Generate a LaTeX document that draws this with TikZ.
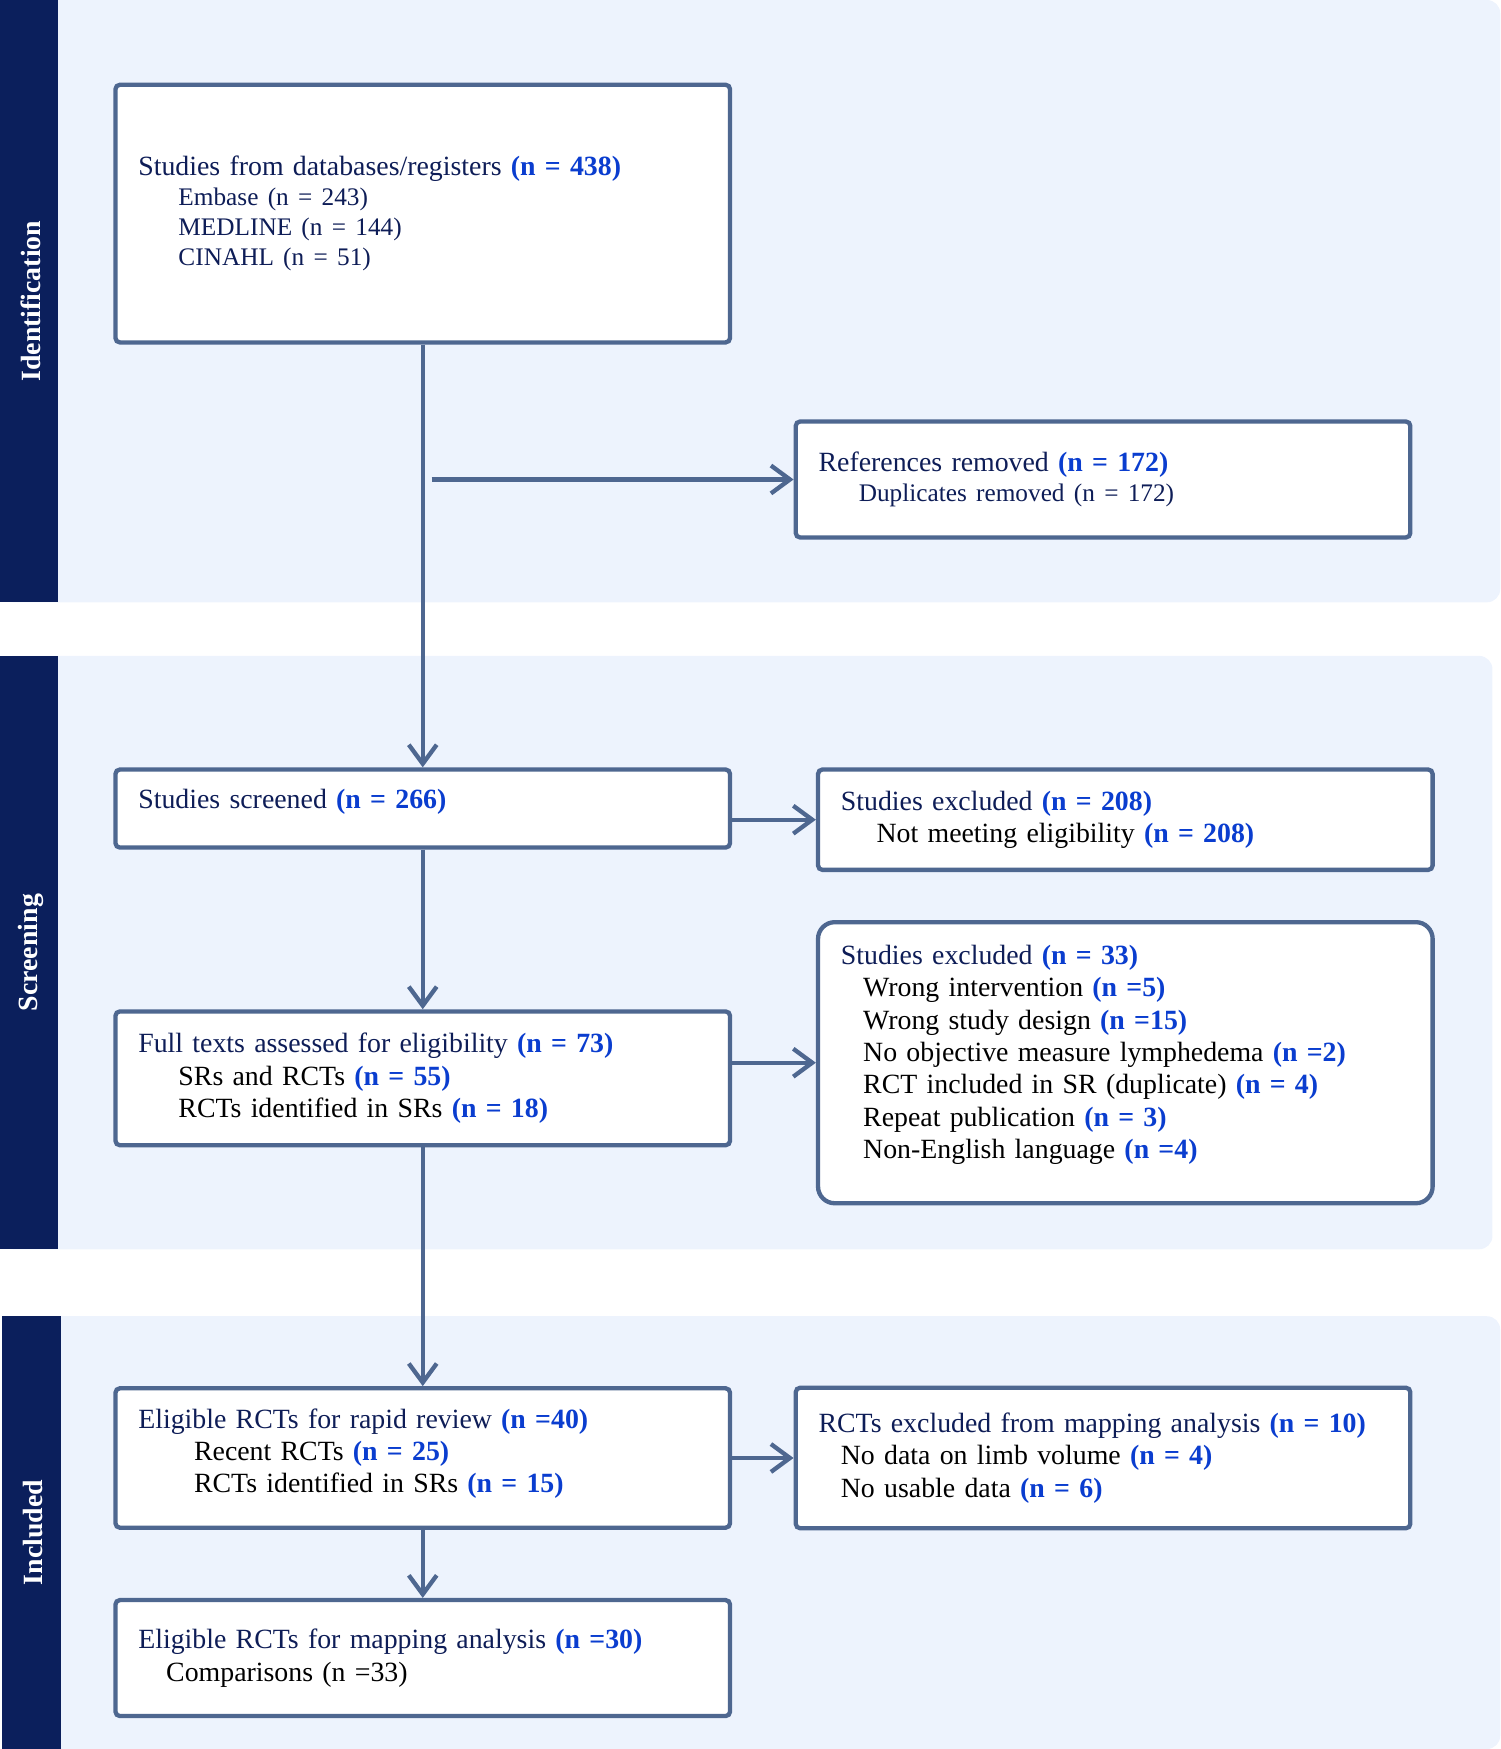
\documentclass[tikz,border=0pt]{standalone}
\usepackage{fontspec}
\setmainfont{Liberation Serif}
\usepackage{xcolor}
\usetikzlibrary{positioning,arrows.meta}

\definecolor{bandbg}{HTML}{EDF3FD}
\definecolor{navy}{HTML}{0B1F5C}
\definecolor{boxline}{HTML}{4E6790}
\definecolor{nblue}{HTML}{0A3DCF}
\definecolor{tnavy}{HTML}{0E1D57}
\newcommand{\mynum}[1]{\textcolor{nblue}{\textbf{#1}}}
\newcommand{\myttl}[1]{\textcolor{tnavy}{#1}}
\newcommand{\mysmall}{\fontsize{12.9}{14.9}\selectfont}
\newcommand{\mypad}[1]{\\[#1]\strut}

\begin{document}
\begin{tikzpicture}[
  mybox/.style={draw=boxline, line width=2.2pt, fill=white, rounded corners=0.08cm,
    minimum width=11.02cm, text width=10.2cm, inner xsep=0.4cm, align=left,
    font=\fontsize{14.2}{16.5}\selectfont},
  myarrow/.style={draw=boxline, line width=2.2pt, -{Straight Barb[length=0.34cm,width=0.5cm]}},
  myphase/.style={rotate=90, text=white, font=\bfseries\fontsize{14.2}{16}\selectfont},
 ]
\useasboundingbox (0,0) rectangle (26.9,-31.36);

% phase bands
\fill[bandbg, rounded corners=0.24cm] (0,0) rectangle (26.9,-10.8);
\fill[bandbg, rounded corners=0.24cm] (0,-11.76) rectangle (26.76,-22.4);
\fill[bandbg, rounded corners=0.24cm] (0.04,-23.6) rectangle (26.9,-31.36);
\fill[navy] (0,0) rectangle (1.04,-10.8);
\fill[navy] (0,-11.76) rectangle (1.04,-22.4);
\fill[navy] (0.04,-23.6) rectangle (1.1,-31.36);
\node[myphase] (P1) at (0.56,-5.4) {Identification};
\node[myphase] (P2) at (0.56,-17.08) {Screening};
\node[myphase] (P3) at (0.6,-27.48) {Included};

% left column
\node[mybox, minimum height=4.62cm, font=\fontsize{14.2}{15.3}\selectfont] (src) at (7.58,-3.83)
  {\myttl{Studies from databases/registers} \mynum{(n = 438)}\\
   \hspace*{0.72cm}{\mysmall\myttl{Embase (n = 243)}}\\
   \hspace*{0.72cm}{\mysmall\myttl{MEDLINE (n = 144)}}\\
   \hspace*{0.72cm}{\mysmall\myttl{CINAHL (n = 51)}}};
\node[mybox, minimum height=1.4cm, below=7.58cm of src] (scr)
  {\myttl{Studies screened} \mynum{(n = 266)}\mypad{-0.42cm}};
\node[mybox, minimum height=2.4cm, below=2.86cm of scr] (full)
  {\myttl{Full texts assessed for eligibility} \mynum{(n = 73)}\\
   \hspace*{0.72cm}SRs and RCTs \mynum{(n = 55)}\\
   \hspace*{0.72cm}RCTs identified in SRs \mynum{(n = 18)}};
\node[mybox, minimum height=2.5cm, below=4.28cm of full] (rap)
  {\myttl{Eligible RCTs for rapid review} \mynum{(n =40)}\\
   \hspace*{1cm}Recent RCTs \mynum{(n = 25)}\\
   \hspace*{1cm}RCTs identified in SRs \mynum{(n = 15)}\mypad{-0.49cm}};
\node[mybox, minimum height=2.08cm, below=1.22cm of rap] (map)
  {\myttl{Eligible RCTs for mapping analysis} \mynum{(n =30)}\\
   \hspace*{0.5cm}Comparisons (n =33)};

% right column
\node[mybox, minimum height=2.08cm, font=\fontsize{14.2}{15.3}\selectfont,
  below right=1.34cm and 1.1cm of src] (dup)
  {\myttl{References removed} \mynum{(n = 172)}\\
   \hspace*{0.72cm}{\mysmall\myttl{Duplicates removed (n = 172)}}};
\node[mybox, minimum height=1.8cm, right=1.5cm of scr.north east, anchor=north west] (exc1)
  {\myttl{Studies excluded} \mynum{(n = 208)}\\
   \hspace*{0.64cm}Not meeting eligibility \mynum{(n = 208)}};
\node[mybox, minimum height=5.04cm, rounded corners=0.3cm, right=1.5cm of full, yshift=0.28cm] (exc2)
  {\myttl{Studies excluded} \mynum{(n = 33)}\\
   \hspace*{0.4cm}Wrong intervention \mynum{(n =5)}\\
   \hspace*{0.4cm}Wrong study design \mynum{(n =15)}\\
   \hspace*{0.4cm}No objective measure lymphedema \mynum{(n =2)}\\
   \hspace*{0.4cm}RCT included in SR (duplicate) \mynum{(n = 4)}\\
   \hspace*{0.4cm}Repeat publication \mynum{(n = 3)}\\
   \hspace*{0.4cm}Non-English language \mynum{(n =4)}\mypad{-0.36cm}};
\node[mybox, minimum height=2.52cm, right=1.1cm of rap] (exc3)
  {\myttl{RCTs excluded from mapping analysis} \mynum{(n = 10)}\\
   \hspace*{0.4cm}No data on limb volume \mynum{(n = 4)}\\
   \hspace*{0.4cm}No usable data \mynum{(n = 6)}};

% connectors
\coordinate (split) at ([xshift=0.16cm]src.south |- dup.west);
\draw[myarrow] (src.south) -- (scr.north);
\draw[myarrow] (split) -- (dup.west);
\draw[myarrow] (scr.east |- exc1.west) -- (exc1.west);
\draw[myarrow] (scr.south) -- (full.north);
\draw[myarrow] (full.east |- exc2.west) -- (exc2.west);
\draw[myarrow] (full.south) -- (rap.north);
\draw[myarrow] (rap.east) -- (exc3.west);
\draw[myarrow] (rap.south) -- (map.north);

\end{tikzpicture}
\end{document}
